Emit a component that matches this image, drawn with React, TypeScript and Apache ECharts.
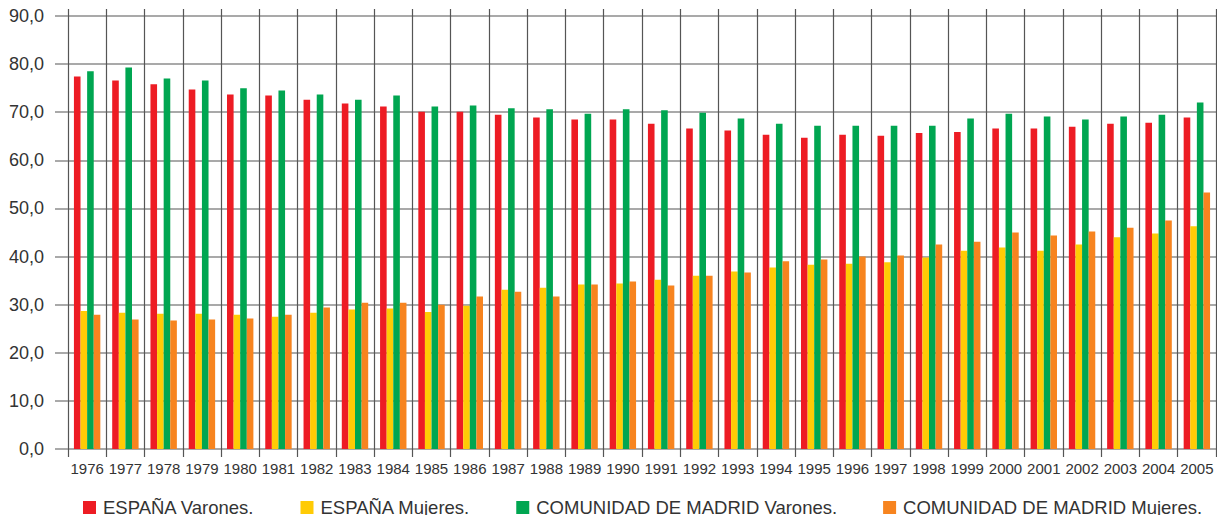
import React, { useEffect, useRef } from "react";
import * as echarts from "echarts";

const years = [
  "1976", "1977", "1978", "1979", "1980", "1981", "1982", "1983", "1984", "1985",
  "1986", "1987", "1988", "1989", "1990", "1991", "1992", "1993", "1994", "1995",
  "1996", "1997", "1998", "1999", "2000", "2001", "2002", "2003", "2004", "2005",
];

const espanaVarones = [
  77.4, 76.6, 75.8, 74.7, 73.7, 73.5, 72.6, 71.8, 71.2, 70.1,
  70.1, 69.5, 68.9, 68.5, 68.5, 67.6, 66.6, 66.2, 65.3, 64.7,
  65.3, 65.1, 65.7, 65.9, 66.6, 66.6, 67.0, 67.6, 67.8, 68.9,
];
const espanaMujeres = [
  28.7, 28.3, 28.1, 28.1, 27.9, 27.5, 28.3, 29.0, 29.2, 28.5,
  29.8, 33.1, 33.5, 34.2, 34.4, 35.2, 36.0, 36.9, 37.7, 38.3,
  38.5, 38.8, 39.8, 41.2, 41.9, 41.2, 42.5, 44.0, 44.8, 46.3,
];
const madridVarones = [
  78.5, 79.3, 77.0, 76.6, 75.0, 74.5, 73.7, 72.6, 73.5, 71.2,
  71.4, 70.8, 70.6, 69.7, 70.6, 70.4, 69.9, 68.7, 67.6, 67.2,
  67.2, 67.2, 67.2, 68.7, 69.7, 69.1, 68.5, 69.1, 69.5, 72.0,
];
const madridMujeres = [
  27.9, 26.9, 26.7, 26.9, 27.1, 27.9, 29.4, 30.4, 30.4, 30.0,
  31.7, 32.7, 31.7, 34.2, 34.8, 34.0, 36.0, 36.7, 39.0, 39.4,
  40.0, 40.2, 42.5, 43.1, 45.0, 44.4, 45.2, 46.0, 47.5, 53.3,
];

const seriesNames = [
  "ESPAÑA Varones.",
  "ESPAÑA Mujeres.",
  "COMUNIDAD DE MADRID Varones.",
  "COMUNIDAD DE MADRID Mujeres.",
];
const seriesColors = ["#ED1C24", "#FFCB05", "#00A651", "#F7841F"];
const seriesData = [espanaVarones, espanaMujeres, madridVarones, madridMujeres];

const FONT = "'Liberation Sans', Arial, Helvetica, sans-serif";

export default function App() {
  const ref = useRef<HTMLDivElement>(null);

  useEffect(() => {
    if (!ref.current) return;
    const chart = echarts.init(ref.current, null, { renderer: "svg" });
    const gridColor = "#8c8c8c";
    const vColor = "#555555";
    chart.setOption({
      animation: false,
      backgroundColor: "#ffffff",
      textStyle: { fontFamily: FONT },
      grid: [
        { left: 68, right: 1, top: 16, bottom: 66 },
        { left: 68, right: 1, top: 9, bottom: 66 },
      ],
      legend: {
        left: 83,
        top: 498,
        itemWidth: 13,
        itemHeight: 13,
        itemGap: 46,
        icon: "rect",
        padding: 0,
        data: seriesNames,
        textStyle: {
          fontFamily: FONT,
          fontSize: 18.5,
          color: "#333333",
          padding: [0, 0, 0, 2],
        },
      },
      xAxis: [
        {
          type: "category",
          gridIndex: 0,
          data: years,
          boundaryGap: true,
          axisLine: { show: false },
          axisTick: { show: false },
          splitLine: { show: false },
          axisLabel: {
            fontFamily: FONT,
            fontSize: 15,
            color: "#333333",
            margin: 12,
            interval: 0,
          },
        },
        {
          type: "category",
          gridIndex: 1,
          data: years,
          boundaryGap: true,
          axisLine: { show: false },
          axisTick: {
            show: true,
            length: 8,
            interval: 0,
            lineStyle: { color: vColor, width: 1.2 },
          },
          axisLabel: { show: false },
          splitLine: {
            show: true,
            interval: 0,
            lineStyle: { color: vColor, width: 1.2 },
          },
        },
      ],
      yAxis: [
        {
          type: "value",
          gridIndex: 0,
          min: 0,
          max: 90,
          interval: 10,
          axisLine: { show: false },
          axisTick: {
            show: true,
            length: 13,
            lineStyle: { color: gridColor, width: 1.5 },
          },
          splitLine: {
            show: true,
            lineStyle: { color: gridColor, width: 1.5 },
          },
          axisLabel: {
            fontFamily: FONT,
            fontSize: 18,
            color: "#333333",
            margin: 24,
            formatter: (v: number) => v.toFixed(1).replace(".", ","),
          },
        },
        {
          type: "value",
          gridIndex: 1,
          show: false,
          min: 0,
          max: 1,
          splitLine: { show: false },
        },
      ],
      series: seriesNames.map((name, i) => ({
        name,
        type: "bar",
        xAxisIndex: 0,
        yAxisIndex: 0,
        data: seriesData[i],
        barGap: "0%",
        barCategoryGap: "31%",
        itemStyle: { color: seriesColors[i] },
        emphasis: { disabled: true },
      })),
    });
    return () => chart.dispose();
  }, []);

  return (
    <div
      ref={ref}
      style={{ position: "fixed", left: 0, top: 0, width: 1217, height: 515 }}
    />
  );
}
